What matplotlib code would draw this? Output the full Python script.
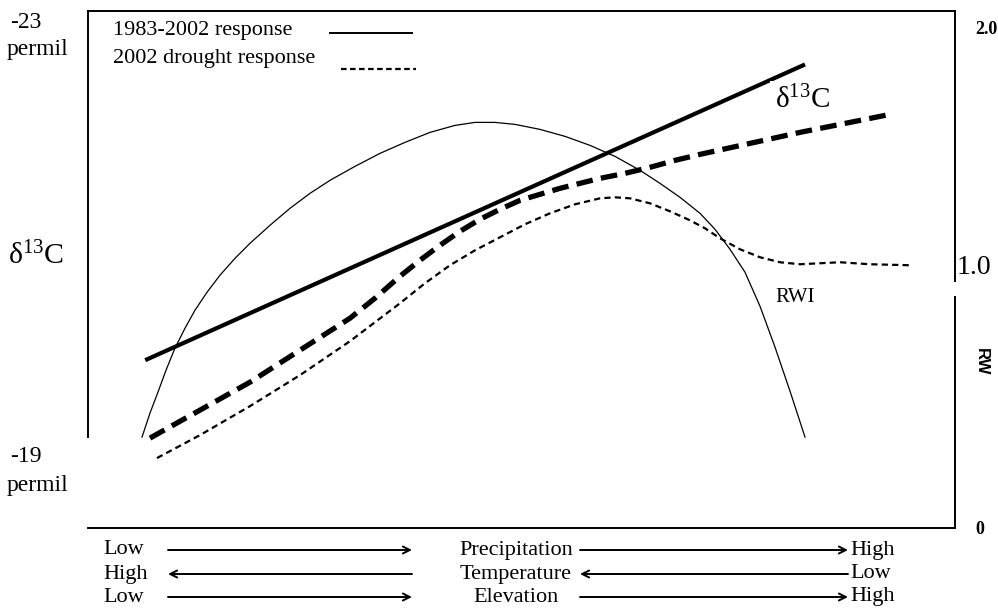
import matplotlib
matplotlib.use('Agg')
from matplotlib import pyplot as plt
from matplotlib import rcParams
from matplotlib.patches import FancyArrowPatch

rcParams['font.family'] = ['Liberation Serif', 'DejaVu Serif']
rcParams['mathtext.fontset'] = 'custom'
rcParams['mathtext.rm'] = 'Liberation Serif'
rcParams['mathtext.it'] = 'Liberation Serif:italic'
rcParams['lines.scale_dashes'] = False

# x = position along the gradient (0..10), y on the RWI scale (0..2)
# delta13C 1983-2002 response
x_c13_8302 = [0.66, 8.27]
y_c13_8302 = [0.672, 1.856]

# delta13C 2002 drought response
x_c13_2002 = [0.715, 1.003, 1.292, 1.580, 1.869, 2.157, 2.445, 2.734, 3.022, 3.310,
              3.599, 3.829, 4.060, 4.291, 4.521, 4.752, 4.983, 5.213, 5.444, 5.675,
              5.905, 6.194, 6.482, 6.771, 7.059, 7.636, 8.212, 8.789, 9.250]
y_c13_2002 = [0.36, 0.416, 0.472, 0.528, 0.584, 0.648, 0.712, 0.776, 0.84, 0.92,
              1.008, 1.072, 1.132, 1.188, 1.236, 1.276, 1.312, 1.336, 1.36, 1.38,
              1.40, 1.42, 1.444, 1.472, 1.496, 1.54, 1.584, 1.624, 1.656]

# RWI 1983-2002
x_rwi_8302 = [0.623, 0.715, 0.807, 0.900, 1.003, 1.119, 1.234, 1.373, 1.522, 1.696,
              1.869, 2.099, 2.330, 2.561, 2.791, 3.080, 3.368, 3.656, 3.945, 4.233,
              4.464, 4.694, 4.925, 5.213, 5.502, 5.790, 6.078, 6.367, 6.597, 6.828,
              7.059, 7.232, 7.405, 7.578, 7.751, 7.924, 8.097, 8.270]
y_rwi_8302 = [0.364, 0.46, 0.544, 0.632, 0.72, 0.80, 0.872, 0.944, 1.012, 1.08,
              1.14, 1.212, 1.28, 1.34, 1.392, 1.448, 1.50, 1.544, 1.584, 1.612,
              1.624, 1.624, 1.616, 1.596, 1.568, 1.532, 1.488, 1.432, 1.38, 1.324,
              1.26, 1.196, 1.116, 1.024, 0.888, 0.724, 0.548, 0.364]

# RWI 2002 drought
x_rwi_2002 = [0.796, 1.292, 1.869, 2.445, 3.022, 3.599, 3.887, 4.175, 4.464, 4.752,
              5.040, 5.329, 5.617, 5.905, 6.078, 6.251, 6.482, 6.713, 6.943, 7.116,
              7.290, 7.520, 7.751, 7.982, 8.212, 8.443, 8.674, 9.020, 9.481]
y_rwi_2002 = [0.28, 0.372, 0.488, 0.612, 0.748, 0.90, 0.98, 1.052, 1.112, 1.164,
              1.216, 1.26, 1.296, 1.32, 1.324, 1.32, 1.30, 1.268, 1.232, 1.20,
              1.16, 1.116, 1.084, 1.064, 1.056, 1.06, 1.064, 1.056, 1.052]

rows_left = ['Low', 'High', 'Low']
rows_mid = ['Precipitation', 'Temperature', 'Elevation']
rows_right = ['High', 'Low', 'High']
rows_dir = ['->', '<-', '->']

W, H = 998, 612
def fx(px):
    return px / W
def fy(py):
    return 1 - py / H

fig = plt.figure(figsize=(W / 100, H / 100), dpi=100)
ax = fig.add_axes([fx(88), fy(528), fx(955) - fx(88), fy(11) - fy(528)])
ax.set_xlim(0, 10)
ax.set_ylim(0, 2.07)
ax.set_xticks([])
ax.set_yticks([])
for s in ['left', 'right', 'top', 'bottom']:
    ax.spines[s].set_linewidth(1.4)
ax.spines['right'].set_visible(False)
ax.spines['left'].set_bounds((528 - 437) / 250, 2.07)
# right frame line, broken where the 1.0 label sits
ax.plot([1, 1], [1, (528 - 281) / 517], transform=ax.transAxes, color='k', lw=1.4, clip_on=False)
ax.plot([1, 1], [(528 - 297) / 517, 0], transform=ax.transAxes, color='k', lw=1.4, clip_on=False)

ax.plot(x_c13_8302, y_c13_8302, color='k', lw=3.0, solid_capstyle='butt')
ax.plot(x_c13_2002, y_c13_2002, color='k', lw=3.8, dashes=(12, 6), dash_capstyle='butt')
ax.plot(x_rwi_8302, y_rwi_8302, color='k', lw=0.9)
ax.plot(x_rwi_2002, y_rwi_2002, color='k', lw=1.6, dashes=(4.5, 3))

ax.text(fx(775), fy(100), r'$\mathrm{\delta^{13}C}$', transform=fig.transFigure, fontsize=21,
        va='center', ha='left', zorder=5,
        bbox=dict(facecolor='white', edgecolor='none', pad=3.5))
ax.text(fx(775), fy(297), 'RWI', transform=fig.transFigure, fontsize=15, va='center', ha='left')

# legend drawn by hand
fig.text(fx(113), fy(30), '1983-2002 response', fontsize=16, va='center')
fig.text(fx(113), fy(58), '2002 drought response', fontsize=16, va='center')
ax.plot([fx(330), fx(412)], [fy(33), fy(33)], transform=fig.transFigure, color='k', lw=1.4, clip_on=False)
ax.plot([fx(341), fx(416)], [fy(69), fy(69)], transform=fig.transFigure, color='k', lw=1.6,
        dashes=(4, 2.5), clip_on=False)

# left axis labels
fig.text(fx(10), fy(22), '-23', fontsize=17, va='center')
fig.text(fx(7), fy(50), 'permil', fontsize=17, va='center')
fig.text(fx(8), fy(256), r'$\mathrm{\delta^{13}C}$', fontsize=21.5, va='center')
fig.text(fx(10), fy(457), '-19', fontsize=17, va='center')
fig.text(fx(7), fy(486), 'permil', fontsize=17, va='center')

# right axis labels
fig.text(fx(975), fy(30), '2.0', fontsize=13, fontweight='bold', va='center')
fig.text(fx(957), fy(267), '1.0', fontsize=20, va='center')
fig.text(fx(981), fy(362), 'RW', fontsize=12, fontweight='bold', family='Liberation Sans',
         rotation=270, va='center', ha='center')
fig.text(fx(975), fy(530), '0', fontsize=13, fontweight='bold', va='center')

# gradient rows underneath
row_y = [550, 574, 597]
for i in range(3):
    yy = fy(row_y[i])
    fig.text(fx(103), yy, rows_left[i], fontsize=16, va='center')
    fig.text(fx(516), yy, rows_mid[i], fontsize=16, va='center', ha='center')
    fig.text(fx(850), yy, rows_right[i], fontsize=16, va='center')
    for a, b in [(168, 412), (580, 848)]:
        if rows_dir[i] == '->':
            p0, p1 = (fx(a), yy), (fx(b), yy)
        else:
            p0, p1 = (fx(b), yy), (fx(a), yy)
        fig.add_artist(FancyArrowPatch(
            p0, p1, transform=fig.transFigure, arrowstyle='->,head_length=5,head_width=2.5',
            color='k', lw=1.4, shrinkA=0, shrinkB=0))

fig.savefig('out.png', dpi=100)
